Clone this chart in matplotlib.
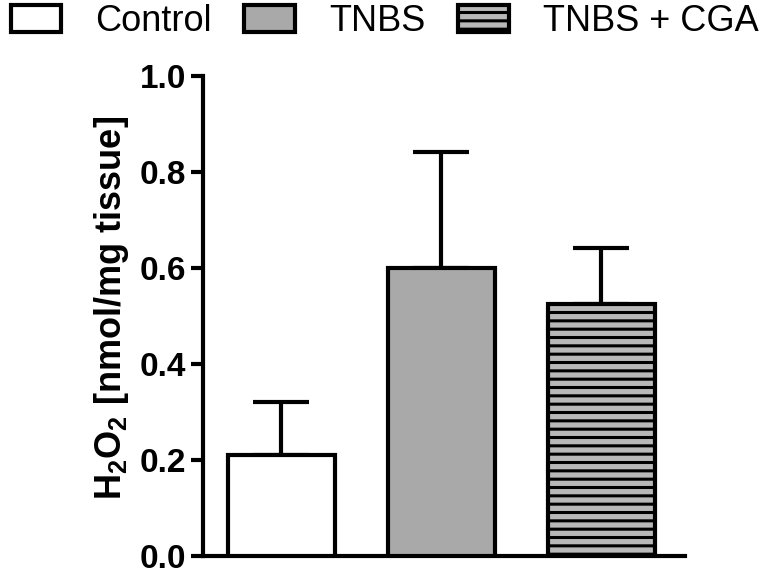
import matplotlib
matplotlib.use("Agg")
import matplotlib.pyplot as plt
from matplotlib.patches import Patch

groups = ["Control", "TNBS", "TNBS + CGA"]
means = [0.21, 0.60, 0.525]
sems = [0.11, 0.24, 0.115]
fills = ["white", "#a9a9a9", "#b8b8b8"]
hatches = ["", "", "--"]
yticks = [0.0, 0.2, 0.4, 0.6, 0.8, 1.0]

plt.rcParams["font.family"] = ["Liberation Sans", "DejaVu Sans"]
plt.rcParams["hatch.linewidth"] = 2.2
plt.rcParams["mathtext.fontset"] = "custom"
plt.rcParams["mathtext.rm"] = "Liberation Sans:bold"
plt.rcParams["mathtext.bf"] = "Liberation Sans:bold"

fig = plt.figure(figsize=(7.67, 5.69), dpi=100)
ax = fig.add_axes([203/767, 1 - 555.5/569, (685-203)/767, 480/569])

x = list(range(len(groups)))
for i in x:
    ax.bar(i, means[i], width=0.67, color=fills[i], edgecolor="black",
           linewidth=3, hatch=hatches[i], zorder=3)
ax.errorbar(x, means, yerr=[[0]*len(sems), sems], fmt="none", ecolor="black",
            elinewidth=3, capsize=20, capthick=3, zorder=2)

ax.set_xlim(-0.49, 2.525)
ax.set_ylim(0, 1.0)
ax.set_yticks(yticks)
ax.set_yticklabels([f"{v:.1f}" for v in yticks], fontsize=24, fontweight="bold")
ax.set_xticks([])
ax.tick_params(axis="y", direction="out", length=9, width=3, pad=3)
for s in ["top", "right"]:
    ax.spines[s].set_visible(False)
for s in ["left", "bottom"]:
    ax.spines[s].set_linewidth(3)
ax.spines["left"].set_bounds(0, 1.0)

ax.set_ylabel(r"H$_2$O$_2$ [nmol/mg tissue]", fontsize=26, fontweight="bold")
ax.yaxis.set_label_coords(-0.15, 0.515)

handles = [Patch(facecolor=fills[i], edgecolor="black", linewidth=3, hatch=hatches[i])
           for i in x]
fig.legend(handles, groups, loc="upper left", bbox_to_anchor=(-0.005, 1.018), ncol=3,
           frameon=False, fontsize=26, handlelength=1.4, handleheight=0.75,
           handletextpad=0.95, columnspacing=0.9, borderaxespad=0)

fig.savefig("out.png", dpi=100)
